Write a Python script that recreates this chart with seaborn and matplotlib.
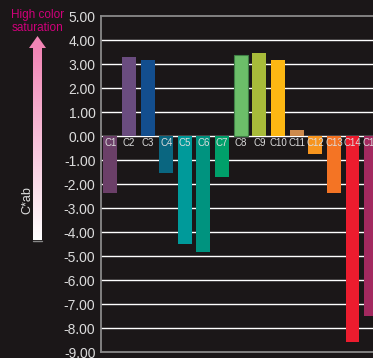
import numpy as np
import pandas as pd
import matplotlib
matplotlib.use("Agg")
import matplotlib.pyplot as plt
import seaborn as sns
from matplotlib.patches import Polygon
from matplotlib.colors import LinearSegmentedColormap

categories = ["C1", "C2", "C3", "C4", "C5", "C6", "C7", "C8", "C9", "C10",
              "C11", "C12", "C13", "C14", "C15"]
values = [-2.36, 3.29, 3.17, -1.53, -4.49, -4.82, -1.70, 3.37, 3.46, 3.17,
          0.25, -0.74, -2.36, -8.57, -7.49]
colors = ["#6b3f68", "#6a4c7f", "#134e8e", "#0a6680", "#009a9a", "#00937f",
          "#00a06a", "#6cbe69", "#a8bb3a", "#fdb813", "#cd8a4c", "#f7951e",
          "#f47424", "#ec1c2e", "#a3295f"]
ytick_vals = [5, 4, 3, 2, 1, 0, -1, -2, -3, -4, -5, -6, -7, -8, -9]
ytick_labels = [f"{v:.2f}" for v in ytick_vals]

BG = "#1b1718"
TXT = "#dcdcdc"

sns.set_theme(style="dark")
plt.rcParams["font.family"] = ["Liberation Sans", "DejaVu Sans"]

fig = plt.figure(figsize=(3.73, 3.58), dpi=100, facecolor=BG)
ax = fig.add_axes([101 / 373, 1 - 352 / 358, 1 - 101 / 373, (352 - 16) / 358])
ax.set_facecolor(BG)

df = pd.DataFrame({"cat": categories, "val": values})
sns.barplot(data=df, x="cat", y="val", hue="cat", palette=colors, legend=False,
            width=0.75, saturation=1, ax=ax, zorder=3, linewidth=0,
            edgecolor="none")

# darker outline on C8 bar
for p in ax.patches:
    p.set_linewidth(0)
ax.patches[categories.index("C8")].set_edgecolor("#3f7f45")
ax.patches[categories.index("C8")].set_linewidth(0.8)

ax.set_xlim(-0.5, 14.1)
ax.set_ylim(-9, 5)
ax.set_yticks(ytick_vals)
ax.set_yticklabels(ytick_labels, color=TXT, fontsize=10)
ax.tick_params(axis="y", length=0, pad=4)
ax.set_xticks([])
ax.set_xlabel("")
ax.set_ylabel("")

for v in ytick_vals[1:-1]:
    ax.axhline(v, color="white", lw=1.0, zorder=1)

for s in ["top", "bottom", "left"]:
    ax.spines[s].set_visible(True)
    ax.spines[s].set_color("#8a8a8a")
    ax.spines[s].set_linewidth(1.3)
ax.spines["right"].set_visible(False)
ax.grid(False)

for i, c in enumerate(categories):
    ax.text(i, -0.3, c, color=TXT, fontsize=7, ha="center", va="center", zorder=5)

# left annotation: gradient arrow
ov = fig.add_axes([0, 0, 1, 1], facecolor="none")
ov.set_xlim(0, 373)
ov.set_ylim(358, 0)
ov.axis("off")
grad = np.linspace(0, 1, 256).reshape(-1, 1)
cmap = LinearSegmentedColormap.from_list("pk", ["#f285b5", "#ffffff"])
ov.imshow(grad, cmap=cmap, extent=[33, 42, 240, 47], aspect="auto", zorder=2)
ov.add_patch(Polygon([[29, 48], [46, 48], [37.5, 36]], closed=True,
                     facecolor="#f285b5", edgecolor="none", zorder=3))
ov.plot([33, 42], [240.5, 240.5], color="#888888", lw=1.0, zorder=3)
ov.text(38, 15, "High color", color="#d0007a", fontsize=8.5, ha="center", va="center")
ov.text(38, 28, "saturation", color="#d0007a", fontsize=8.5, ha="center", va="center")
ov.text(27, 200, "C*ab", color=TXT, fontsize=9, ha="center", va="center", rotation=90)

fig.savefig("out.png", dpi=100, facecolor=BG)
